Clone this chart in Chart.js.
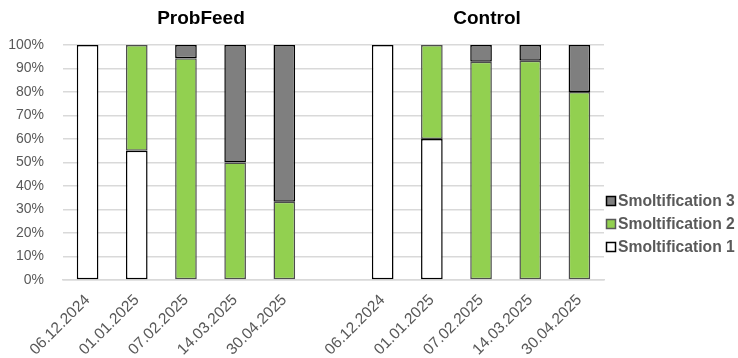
<!DOCTYPE html>
<html>
<head>
<meta charset="utf-8">
<script src="https://cdn.jsdelivr.net/npm/chart.js@4"></script>
<style>
  html, body { margin: 0; padding: 0; background: #fff; }
  #wrap { width: 738px; height: 358px; position: relative; }
</style>
</head>
<body>
<div id="wrap"><canvas id="c" width="738" height="358"></canvas></div>
<script>
// Sampling dates per group; an empty slot separates the two groups
const dates = ['06.12.2024', '01.01.2025', '07.02.2025', '14.03.2025', '30.04.2025'];
const groupNames = ['ProbFeed', 'Control'];
const categories = [...dates, '', ...dates];

// Share of fish (%) at each smoltification stage
const probFeedS1 = [100, 55, 0, 0, 0];
const probFeedS2 = [0, 45, 94.4, 50, 33.3];
const probFeedS3 = [0, 0, 5.6, 50, 66.7];
const controlS1 = [100, 60, 0, 0, 0];
const controlS2 = [0, 40, 92.9, 93.3, 80];
const controlS3 = [0, 0, 7.1, 6.7, 20];

const yTicks = [0, 10, 20, 30, 40, 50, 60, 70, 80, 90, 100];

const join = (a, b) => [...a, null, ...b];

const textGrey = '#595959';
const fontFamily = '"Liberation Sans", Arial, sans-serif';

// Group titles above each block of bars
const groupTitles = {
  id: 'groupTitles',
  afterDraw(chart) {
    const ctx = chart.ctx;
    const x = chart.scales.x;
    ctx.save();
    ctx.font = 'bold 19px ' + fontFamily;
    ctx.fillStyle = '#000';
    ctx.textAlign = 'center';
    ctx.textBaseline = 'middle';
    const first = (x.getPixelForValue(0) + x.getPixelForValue(4)) / 2;
    const second = (x.getPixelForValue(6) + x.getPixelForValue(10)) / 2;
    ctx.fillText(groupNames[0], first + 15, 19);
    ctx.fillText(groupNames[1], second + 6, 19);
    ctx.restore();
  }
};

// Legend at the right, top stage listed first
const sideLegend = {
  id: 'sideLegend',
  afterDraw(chart) {
    const ctx = chart.ctx;
    const ds = chart.data.datasets.slice().reverse();
    ctx.save();
    ctx.font = 'bold 15.7px ' + fontFamily;
    ctx.textBaseline = 'middle';
    ctx.textAlign = 'left';
    const x0 = 606;
    const yTop = 201;
    ds.forEach((d, i) => {
      const y = yTop + i * 23;
      ctx.fillStyle = d.backgroundColor;
      ctx.fillRect(x0 + 0.5, y - 4.5, 9, 9);
      ctx.lineWidth = 1.5;
      ctx.strokeStyle = d.legendBorder;
      ctx.strokeRect(x0 + 0.5, y - 4.5, 9, 9);
      ctx.fillStyle = textGrey;
      ctx.fillText(d.label, x0 + 12, y + 1);
    });
    ctx.restore();
  }
};

new Chart(document.getElementById('c'), {
  type: 'bar',
  data: {
    labels: categories,
    datasets: [
      {
        label: 'Smoltification 1',
        data: join(probFeedS1, controlS1),
        backgroundColor: '#ffffff',
        borderColor: '#000000',
        legendBorder: '#000000',
        borderWidth: 1.5,
        borderSkipped: false
      },
      {
        label: 'Smoltification 2',
        data: join(probFeedS2, controlS2),
        backgroundColor: '#92d050',
        borderColor: '#4d4d4d',
        legendBorder: '#595959',
        borderWidth: 1.5,
        borderSkipped: false
      },
      {
        label: 'Smoltification 3',
        data: join(probFeedS3, controlS3),
        backgroundColor: '#7f7f7f',
        borderColor: '#000000',
        legendBorder: '#000000',
        borderWidth: 1.5,
        borderSkipped: false
      }
    ]
  },
  options: {
    responsive: false,
    animation: false,
    devicePixelRatio: 1,
    layout: { padding: { top: 45, right: 134, left: 0, bottom: 0 } },
    datasets: { bar: { barPercentage: 0.88, categoryPercentage: 0.5 } },
    plugins: {
      legend: { display: false },
      tooltip: { enabled: false }
    },
    scales: {
      x: {
        stacked: true,
        grid: { display: false, drawTicks: false },
        border: { color: '#d9d9d9', width: 1.5 },
        ticks: {
          color: textGrey,
          font: { size: 15.5, family: fontFamily },
          minRotation: 45,
          maxRotation: 45,
          autoSkip: false,
          padding: 11
        },
        // fixed label band; the first rotated label may run past the left edge
        afterFit(scale) {
          scale.paddingLeft = 0;
          scale.height = 78;
        }
      },
      y: {
        stacked: true,
        min: 0,
        max: 100,
        afterBuildTicks(axis) { axis.ticks = yTicks.map(v => ({ value: v })); },
        grid: { color: '#d9d9d9', lineWidth: 1.5, drawTicks: false },
        border: { display: false },
        ticks: {
          color: textGrey,
          font: { size: 14, family: fontFamily },
          padding: 19,
          callback: v => v + '%'
        },
        afterFit(scale) { scale.width = 63; }
      }
    }
  },
  plugins: [groupTitles, sideLegend]
});
</script>
</body>
</html>
